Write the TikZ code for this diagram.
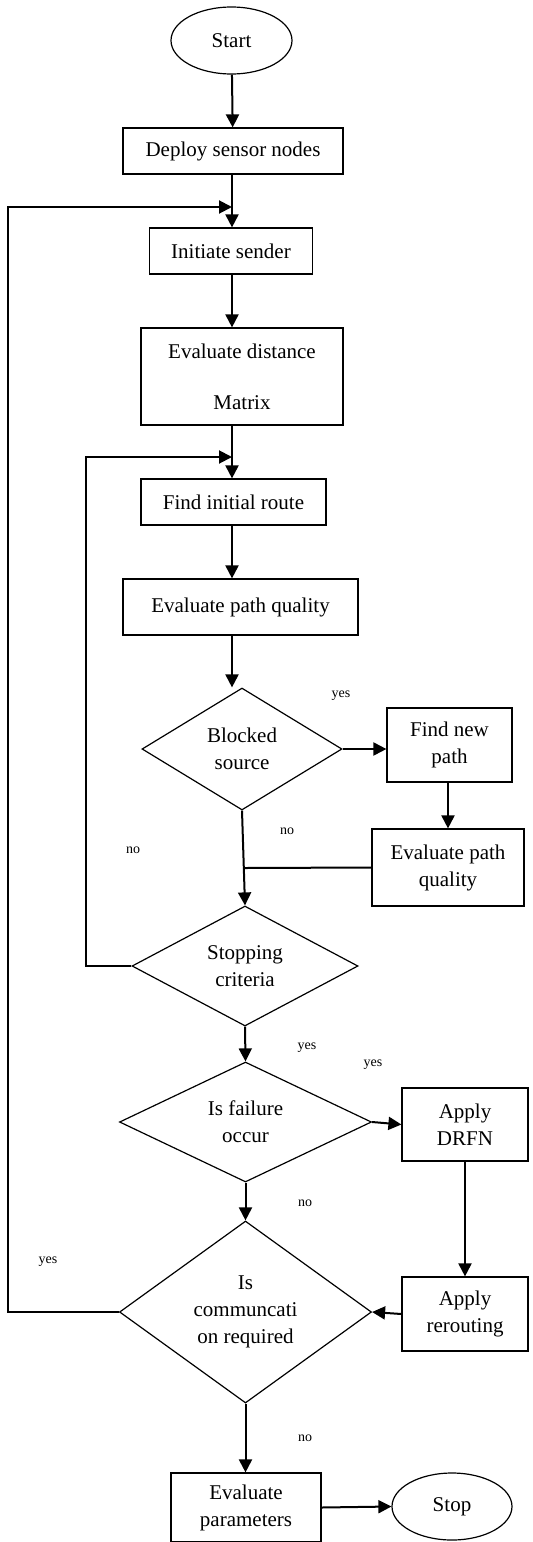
\documentclass[tikz,border=0pt]{standalone}
\usepackage{fontspec}
\setmainfont{Liberation Serif}
\usetikzlibrary{shapes.geometric,arrows.meta}

\tikzset{
  box/.style={draw,line width=0.6pt,align=center,inner sep=0pt,font=\fontsize{10.5pt}{13.5pt}\selectfont},
  oval/.style={draw,ellipse,line width=0.6pt,inner sep=0pt,font=\fontsize{10.5pt}{13.5pt}\selectfont},
  decide/.style={draw,diamond,line width=0.6pt,align=center,inner sep=0pt,font=\fontsize{10.5pt}{13.5pt}\selectfont},
  flow/.style={line width=1pt,-{Triangle[length=6.5pt,width=6.5pt]}},
  link/.style={line width=1pt},
  tag/.style={font=\fontsize{7pt}{8pt}\selectfont}
}

\begin{document}
\begin{tikzpicture}[x=0.5pt,y=-0.5pt]
               \useasboundingbox (0,0) rectangle (533,1542);
               % start and first steps
               \node [oval,minimum width=60.5pt,minimum height=33.5pt] (start) at (231.5,40.5) {Start};
               \node [box,minimum width=110pt,minimum height=23pt] (deploy) at (233,151) {Deploy sensor nodes};
               \node [box,minimum width=81.5pt,minimum height=23pt] (initiate) at (231,251) {Initiate sender};
               \node [box,minimum width=101pt,minimum height=48.5pt] (distance) at (242,376.5) {Evaluate distance\\[12pt]Matrix};
               \node [box,minimum width=92.5pt,minimum height=23pt] (initroute) at (233.5,502) {Find initial route};
               \node [box,minimum width=117.5pt,minimum height=28pt] (quality) at (240.5,607) {Evaluate path quality};
               % blocked source branch
               \node [decide,minimum width=100pt,minimum height=61pt,aspect=1.64] (blocked) at (242,749) {Blocked\\source};
               \node [box,minimum width=62.5pt,minimum height=37pt] (newpath) at (449.5,745) {Find new\\path};
               \node [box,minimum width=76pt,minimum height=38.5pt] (requality) at (448,867.5) {Evaluate path\\quality};
               \node [decide,minimum width=113pt,minimum height=60pt,aspect=1.9] (stopping) at (245,966) {Stopping\\criteria};
               % failure branch
               \node [decide,minimum width=126pt,minimum height=60pt,aspect=2.1] (failure) at (245.5,1122) {Is failure\\occur};
               \node [box,minimum width=63pt,minimum height=36.5pt] (drfn) at (465,1124.5) {Apply\\DRFN};
               \node [box,minimum width=63pt,minimum height=37pt] (reroute) at (465,1314) {Apply\\rerouting};
               \node [decide,minimum width=126pt,minimum height=91pt,aspect=1.38] (commreq) at (245.5,1312) {Is\\communcati\\on required};
               % end
               \node [box,minimum width=75pt,minimum height=34.5pt] (params) at (246,1507.5) {Evaluate\\parameters};
               \node [oval,minimum width=60pt,minimum height=33.5pt] (stop) at (452,1506.5) {Stop};
               % joints of the loops
               \coordinate (j1) at (232,207);
               \coordinate (j2) at (232,457);
               \coordinate (j3) at (245,868);
               % main line
               \draw [flow] (start) -- (deploy);
               \draw [flow] (deploy.south -| j1) -- (initiate.north -| j1);
               \draw [flow] (initiate.south -| j1) -- (distance.north -| j1);
               \draw [flow] (distance.south -| j2) -- (initroute.north -| j2);
               \draw [flow] (initroute.south -| j2) -- (quality.north -| j2);
               \draw [flow] (quality.south -| j2) -- (blocked.north -| j2);
               \draw [flow] (blocked.east) -- (blocked.east -| newpath.west);
               \draw [flow] (newpath.south -| requality.north) -- (requality.north);
               \draw [link] (requality.west) -- (j3);
               \draw [flow] (blocked.south) -- (stopping.north);
               \draw [flow] (stopping.south) -- (failure.north);
               \draw [flow] (failure.east) -- (drfn.west);
               \draw [flow] (drfn.south) -- (reroute.north);
               \draw [flow] (reroute.west) -- (commreq.east);
               \draw [flow] (failure.south) -- (commreq.north);
               \draw [flow] (commreq.south) -- (params.north -| commreq.south);
               \draw [flow] (params.east) -- (stop.west);
               % loops back
               \draw [flow] (stopping.west) -- (86,966) -- (86,457) -- (j2);
               \draw [flow] (commreq.west) -- (8,1312) -- (8,207) -- (j1);
               % labels
               \node [tag] (yes1) at (341,696) {yes};
               \node [tag] (no1) at (287,831) {no};
               \node [tag] (no2) at (133,850) {no};
               \node [tag] (yes2) at (307,1048) {yes};
               \node [tag] (yes3) at (373,1065) {yes};
               \node [tag] (no3) at (305,1203) {no};
               \node [tag] (yes4) at (48,1262) {yes};
               \node [tag] (no4) at (305,1438) {no};
\end{tikzpicture}
\end{document}
